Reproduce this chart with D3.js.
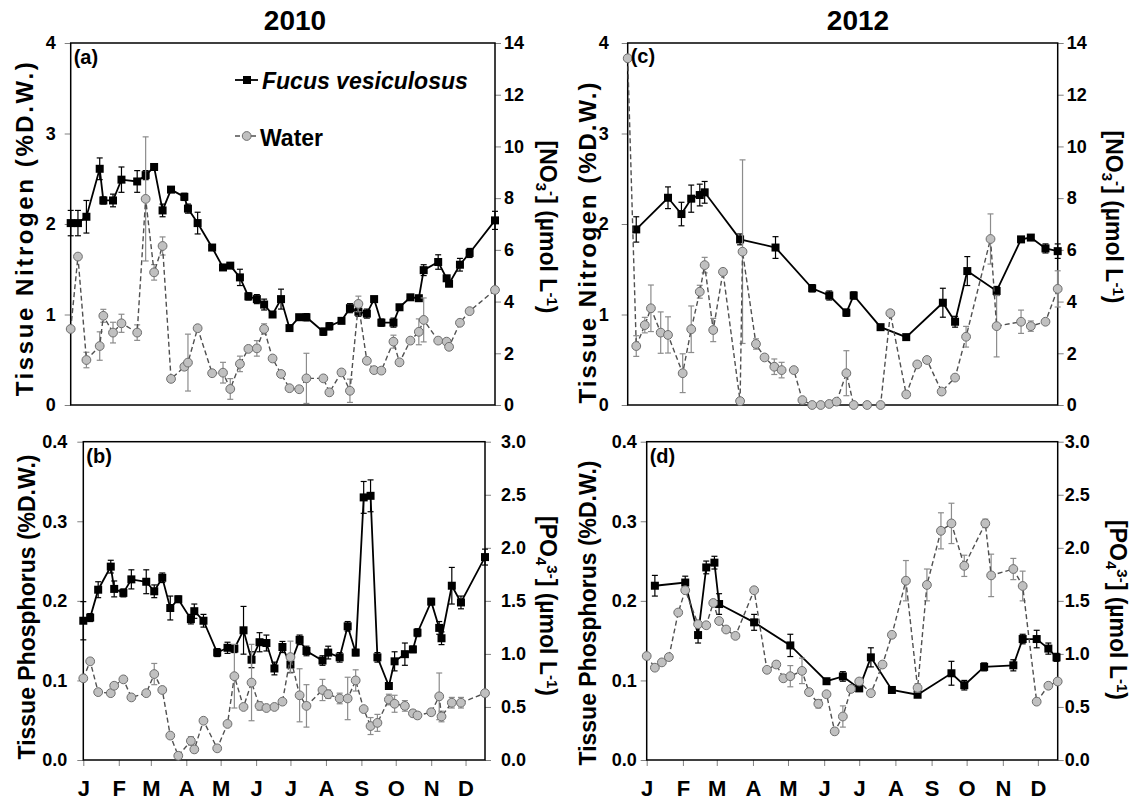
<!DOCTYPE html>
<html>
<head>
<meta charset="utf-8">
<script src="https://cdnjs.cloudflare.com/ajax/libs/d3/7.8.5/d3.min.js"></script>
<style>
  body { margin: 0; background: #fff; }
  text { font-family: "Liberation Sans", Arial, sans-serif; font-weight: bold; fill: #000; }
</style>
</head>
<body>
<div id="chart"></div>
<script>
// month initials for the bottom axes
var monthLabels = ["J", "F", "M", "A", "M", "J", "J", "A", "S", "O", "N", "D"];

// 2010 sampling days (day of year, 0 = 1 Jan), shared by panels a and b
var days2010 = [0, 6, 13, 24, 27, 35, 42, 55, 62, 69, 76, 83, 94, 97, 105, 117, 126, 132, 140, 147,
  154, 160, 167, 174, 181, 189, 195, 209, 214, 224, 231, 238, 245, 251, 257, 267, 272, 281, 288, 292,
  304, 311, 313, 322, 330, 351];

// (a) tissue N (%D.W.) and water NO3 (umol/L), 2010
var fucusN2010 = [2.01, 2.01, 2.08, 2.61, 2.26, 2.26, 2.49, 2.47, 2.54, 2.63, 2.15, 2.38, 2.30, 2.17, 2.01, 1.74, 1.52, 1.54, 1.41, 1.20,
  1.17, 1.11, 1.00, 1.17, 0.85, 0.97, 0.97, 0.81, 0.87, 0.93, 1.07, 1.03, 1.01, 1.17, 0.91, 0.91, 1.08, 1.19, 1.18, 1.49,
  1.58, 1.40, 1.34, 1.55, 1.68, 2.04];
var fucusN2010Err = [0.14, 0.14, 0.18, 0.12, 0.04, 0.07, 0.14, 0.12, 0.05, 0.03, 0.07, 0.03, 0.04, 0.05, 0.12, 0.03, 0.03, 0.03, 0.09, 0.04,
  0.05, 0.06, 0.03, 0.11, 0.03, 0.03, 0.04, 0.04, 0.04, 0.03, 0.05, 0.05, 0.05, 0.03, 0.04, 0.05, 0.03, 0.02, 0.02, 0.06,
  0.08, 0.03, 0.03, 0.07, 0.05, 0.10];
var waterN2010 = [2.94, 5.74, 1.74, 2.28, 3.45, 2.80, 3.16, 2.80, 7.97, 5.13, 6.15, 1.01, 1.48, 1.64, 2.97, 1.23, 1.25, 0.62, 1.59, 2.17,
  2.19, 2.94, 1.80, 1.20, 0.65, 0.61, 1.03, 1.03, 0.49, 1.26, 0.55, 3.91, 1.71, 1.35, 1.33, 2.45, 1.65, 2.49, 2.83, 3.29,
  2.49, 2.45, 2.25, 3.18, 3.63, 4.45];
var waterN2010Err = [0, 0.1, 0.3, 0.55, 0.25, 0.4, 0.35, 0.3, 2.4, 0.3, 0.35, 0.05, 0.1, 1.1, 0.1, 0.1, 0.4, 0.4, 0.3, 0.1,
  0.3, 0.2, 0.05, 0.1, 0.05, 0.05, 0.97, 0.05, 0.05, 0.05, 0.45, 0.3, 0.05, 0.05, 0.05, 0.25, 0.05, 0.05, 0.5, 0.85,
  0.05, 0.05, 0.05, 0.05, 0.05, 0.05];

// (b) tissue P (%D.W.) and water PO4 (umol/L), 2010
var fucusP2010 = [0.175, 0.179, 0.214, 0.243, 0.215, 0.210, 0.227, 0.224, 0.212, 0.229, 0.191, 0.202, 0.177, 0.187, 0.175, 0.135, 0.141, 0.140, 0.163, 0.126,
  0.148, 0.147, 0.115, 0.142, 0.120, 0.151, 0.137, 0.125, 0.135, 0.129, 0.168, 0.135, 0.330, 0.332, 0.129, 0.093, 0.124, 0.133, 0.139, 0.160,
  0.199, 0.166, 0.153, 0.219, 0.198, 0.255];
var fucusP2010Err = [0.024, 0.005, 0.01, 0.008, 0.01, 0.005, 0.012, 0.015, 0.008, 0.006, 0.015, 0.004, 0.006, 0.009, 0.008, 0.005, 0.007, 0.005, 0.03, 0.01,
  0.012, 0.01, 0.008, 0.007, 0.01, 0.006, 0.006, 0.006, 0.008, 0.006, 0.006, 0.004, 0.02, 0.02, 0.006, 0.004, 0.012, 0.014, 0.004, 0.005,
  0.004, 0.008, 0.008, 0.023, 0.008, 0.01];
var waterP2010 = [0.77, 0.93, 0.64, 0.63, 0.70, 0.76, 0.59, 0.63, 0.81, 0.66, 0.23, 0.04, 0.18, 0.10, 0.37, 0.11, 0.34, 0.79, 0.50, 0.73,
  0.51, 0.49, 0.50, 0.55, 0.97, 0.61, 0.51, 0.66, 0.62, 0.58, 0.58, 0.75, 0.48, 0.32, 0.35, 0.57, 0.53, 0.51, 0.44, 0.42,
  0.45, 0.60, 0.41, 0.54, 0.54, 0.63];
var waterP2010Err = [0, 0, 0, 0, 0, 0, 0, 0, 0.1, 0, 0, 0, 0.04, 0.03, 0, 0, 0, 0.3, 0, 0.36,
  0.04, 0, 0, 0, 0.15, 0.25, 0.2, 0.1, 0.04, 0.05, 0.2, 0.1, 0, 0.08, 0.08, 0.05, 0.08, 0.05, 0.03, 0.03,
  0.03, 0.22, 0.05, 0.05, 0.05, 0];

// (c) 2012 nitrogen
var fucusNDays2012 = [7, 33, 44, 52, 59, 63, 92, 121, 151, 165, 179, 185, 207, 228, 258, 268, 278, 302, 322, 330, 342, 352];
var fucusN2012 = [1.94, 2.29, 2.11, 2.28, 2.32, 2.35, 1.83, 1.74, 1.29, 1.21, 1.02, 1.21, 0.86, 0.75, 1.13, 0.92, 1.48, 1.26, 1.83, 1.85, 1.73, 1.70];
var fucusN2012Err = [0.14, 0.12, 0.13, 0.15, 0.12, 0.12, 0.06, 0.12, 0.04, 0.05, 0.04, 0.04, 0.02, 0.02, 0.16, 0.06, 0.16, 0.05, 0.02, 0.02, 0.05, 0.08];
var waterNDays2012 = [0, 7, 14, 19, 27, 33, 45, 52, 59, 63, 70, 78, 92, 94, 105, 112, 120, 126, 136, 143,
  151, 158, 165, 171, 179, 185, 196, 207, 215, 228, 237, 245, 257, 268, 277, 297, 302, 322, 330, 342, 352];
var waterN2012 = [13.41, 2.28, 3.09, 3.74, 2.80, 2.71, 1.23, 2.93, 4.38, 5.41, 2.90, 5.15, 0.15, 5.93, 2.36, 1.84, 1.48, 1.35, 1.35, 0.19,
  0.0, 0.0, 0.04, 0.13, 1.23, 0.0, 0.0, 0.0, 3.55, 0.41, 1.57, 1.74, 0.52, 1.06, 2.64, 6.42, 3.05, 3.22, 3.05, 3.22, 4.49];
var waterN2012Err = [0, 0.4, 0.3, 0.9, 0.8, 0.7, 0.75, 0.9, 0.25, 0.3, 0.45, 0.05, 0.05, 3.55, 0.2, 0.05, 0.3, 0.3, 0.05, 0.05,
  0, 0, 0, 0.05, 0.87, 0, 0, 0, 0.05, 0.05, 0.05, 0.05, 0.05, 0.05, 0.4, 0.97, 1.19, 0.45, 0.2, 0.05, 0.7];

// (d) 2012 phosphorus
var fucusPDays2012 = [7, 33, 44, 51, 58, 62, 92, 123, 154, 168, 182, 192, 210, 232, 261, 272, 289, 314, 322, 334, 344, 351];
var fucusP2012 = [0.219, 0.223, 0.157, 0.242, 0.248, 0.196, 0.173, 0.144, 0.099, 0.105, 0.090, 0.129, 0.088, 0.082, 0.109, 0.094, 0.117, 0.119, 0.152, 0.152, 0.140, 0.129];
var fucusP2012Err = [0.013, 0.008, 0.01, 0.008, 0.008, 0.013, 0.01, 0.014, 0.003, 0.006, 0.003, 0.012, 0.003, 0.003, 0.015, 0.006, 0.005, 0.007, 0.006, 0.011, 0.007, 0.005];
var waterPDays2012 = [0, 7, 13, 19, 27, 33, 44, 51, 57, 62, 68, 76, 92, 103, 111, 117, 123, 133, 139, 147,
  154, 161, 168, 175, 182, 192, 202, 210, 222, 232, 240, 252, 261, 272, 290, 295, 314, 322, 334, 344, 352];
var waterP2012 = [0.98, 0.87, 0.92, 0.97, 1.39, 1.60, 1.28, 1.27, 1.48, 1.31, 1.23, 1.17, 1.60, 0.85, 0.90, 0.77, 0.79, 0.84, 0.64, 0.53,
  0.62, 0.27, 0.41, 0.67, 0.74, 0.63, 0.90, 1.18, 1.69, 0.68, 1.65, 2.16, 2.23, 1.83, 2.23, 1.74, 1.80, 1.64, 0.55, 0.70, 0.74];
var waterP2012Err = [0, 0, 0, 0, 0, 0, 0, 0, 0, 0, 0, 0, 0, 0, 0.03, 0, 0.1, 0.12, 0, 0.04,
  0, 0.03, 0.1, 0, 0, 0, 0, 0, 0.19, 0.04, 0.15, 0.17, 0.19, 0.1, 0.04, 0.2, 0.1, 0.14, 0, 0, 0];

// axis ticks
var nTissueTicks = [0, 1, 2, 3, 4];
var nWaterTicks = [0, 2, 4, 6, 8, 10, 12, 14];
var pTissueTicks = [0, 0.1, 0.2, 0.3, 0.4];
var pWaterTicks = [0, 0.5, 1.0, 1.5, 2.0, 2.5, 3.0];

var tickColor = "#808080";

var svg = d3.select("#chart").append("svg")
    .attr("width", 1140)
    .attr("height", 806);

function dayToDate(year, day){
  return d3.timeDay.offset(new Date(year, 0, 1), day);
}

function rows(year, days, vals, errs){
  return days.map(function(d, i){
    return {date: dayToDate(year, d), v: vals[i], e: errs[i]};
  });
}

function styleAxis(g, size){
  g.select(".domain").remove();
  g.selectAll(".tick line").attr("stroke", tickColor).attr("stroke-width", 1);
  g.selectAll(".tick text")
    .attr("font-size", size)
    .attr("font-family", "Liberation Sans, Arial, sans-serif")
    .attr("font-weight", "bold")
    .attr("fill", "#000");
}

function errorBars(g, data, x, y, color){
  var eb = g.append("g").selectAll("g")
    .data(data.filter(function(d){ return d.e > 0; }))
    .enter().append("g")
    .attr("stroke", color)
    .attr("stroke-width", 1.2);
  eb.append("line")
    .attr("x1", function(d){ return x(d.date); })
    .attr("x2", function(d){ return x(d.date); })
    .attr("y1", function(d){ return y(Math.max(d.v - d.e, y.domain()[0])); })
    .attr("y2", function(d){ return y(d.v + d.e); });
  eb.append("line")
    .attr("x1", function(d){ return x(d.date) - 3; })
    .attr("x2", function(d){ return x(d.date) + 3; })
    .attr("y1", function(d){ return y(d.v + d.e); })
    .attr("y2", function(d){ return y(d.v + d.e); });
  eb.filter(function(d){ return d.v - d.e > y.domain()[0]; })
    .append("line")
    .attr("x1", function(d){ return x(d.date) - 3; })
    .attr("x2", function(d){ return x(d.date) + 3; })
    .attr("y1", function(d){ return y(d.v - d.e); })
    .attr("y2", function(d){ return y(d.v - d.e); });
}

function drawPanel(p){
  var g = svg.append("g");

  var x = d3.scaleTime()
      .domain([new Date(p.year, 0, 1), dayToDate(p.year, p.lastDay)])
      .range([p.left, p.right]);
  var yL = d3.scaleLinear().domain(p.leftDomain).range([p.bottom, p.top]);
  var yR = d3.scaleLinear().domain(p.rightDomain).range([p.bottom, p.top]);

  // left axis
  g.append("g")
    .attr("transform", "translate(" + p.left + ",0)")
    .call(d3.axisLeft(yL).tickValues(p.leftTicks).tickFormat(p.leftFormat).tickSize(6).tickPadding(p.leftPad))
    .call(styleAxis, 18);

  // right axis
  g.append("g")
    .attr("transform", "translate(" + p.right + ",0)")
    .call(d3.axisRight(yR).tickValues(p.rightTicks).tickFormat(p.rightFormat).tickSize(6).tickPadding(p.rightPad))
    .call(styleAxis, 18);

  // months only on the lower panels
  if(p.months){
    g.append("g")
      .attr("transform", "translate(0," + p.bottom + ")")
      .call(d3.axisBottom(x).ticks(d3.timeMonth.every(1))
        .tickFormat(function(d){ return monthLabels[d.getMonth()]; })
        .tickSize(6).tickPadding(14))
      .call(styleAxis, 22);
  }

  // frame
  g.append("rect")
    .attr("x", p.left)
    .attr("y", p.top)
    .attr("width", p.right - p.left)
    .attr("height", p.bottom - p.top)
    .attr("fill", "none")
    .attr("stroke", "#000")
    .attr("stroke-width", 1.5);

  var fucus = rows(p.year, p.fucusDays, p.fucus, p.fucusErr);
  var water = rows(p.year, p.waterDays, p.water, p.waterErr);

  // tissue series: black squares, solid line
  errorBars(g, fucus, x, yL, "#000");
  g.append("path")
    .datum(fucus)
    .attr("fill", "none")
    .attr("stroke", "#000")
    .attr("stroke-width", 1.8)
    .attr("d", d3.line().x(function(d){ return x(d.date); }).y(function(d){ return yL(d.v); }));
  g.append("g").selectAll("rect")
    .data(fucus)
    .enter().append("rect")
    .attr("x", function(d){ return x(d.date) - 4; })
    .attr("y", function(d){ return yL(d.v) - 4; })
    .attr("width", 8)
    .attr("height", 8)
    .attr("fill", "#000");

  // water series: grey circles, dashed line
  errorBars(g, water, x, yR, "#8c8c8c");
  g.append("path")
    .datum(water)
    .attr("fill", "none")
    .attr("stroke", "#505050")
    .attr("stroke-width", 1.4)
    .attr("stroke-dasharray", "5,3")
    .attr("d", d3.line().x(function(d){ return x(d.date); }).y(function(d){ return yR(d.v); }));
  g.append("g").selectAll("circle")
    .data(water)
    .enter().append("circle")
    .attr("cx", function(d){ return x(d.date); })
    .attr("cy", function(d){ return yR(d.v); })
    .attr("r", 4.4)
    .attr("fill", "#c0c0c0")
    .attr("stroke", "#6e6e6e")
    .attr("stroke-width", 1);

  // panel letter
  g.append("text")
    .attr("x", p.left + 3)
    .attr("y", p.top + p.letterDy)
    .attr("font-size", 20)
    .text(p.letter);

  // left title
  g.append("text")
    .attr("transform", "translate(" + p.leftTitleX + "," + p.leftTitleY + ") rotate(-90)")
    .attr("text-anchor", "middle")
    .attr("font-size", p.leftTitleSize)
    .attr("letter-spacing", p.leftTitleSpacing)
    .text(p.leftTitle);

  // right title with sub/superscripts
  var rt = g.append("text")
    .attr("transform", "translate(" + p.rightTitleX + "," + p.rightTitleY + ") rotate(90)")
    .attr("text-anchor", "middle")
    .attr("font-size", 23);
  p.rightTitle.forEach(function(part){
    var t = rt.append("tspan").text(part[0]);
    if(part[1] == "sub") t.attr("font-size", 15).attr("baseline-shift", "-25%");
    if(part[1] == "sup") t.attr("font-size", 15).attr("baseline-shift", "45%");
  });

  return {x: x, yL: yL, yR: yR, g: g};
}

var fmtInt = d3.format("d");
var fmt1 = d3.format(".1f");
var noTitle = [["[NO"], ["3", "sub"], ["-", "sup"], ["] (\u00b5mol L"], ["-1", "sup"], [")"]];
var poTitle = [["[PO"], ["4", "sub"], ["3-", "sup"], ["] (\u00b5mol L"], ["-1", "sup"], [")"]];

var pa = drawPanel({
  year: 2010, lastDay: 351, left: 70.7, right: 495, top: 43, bottom: 405,
  leftDomain: [0, 4], rightDomain: [0, 14], leftTicks: nTissueTicks, rightTicks: nWaterTicks,
  leftFormat: fmtInt, rightFormat: fmtInt, leftPad: 9, rightPad: 3, months: false,
  fucusDays: days2010, fucus: fucusN2010, fucusErr: fucusN2010Err,
  waterDays: days2010, water: waterN2010, waterErr: waterN2010Err,
  letter: "(a)", letterDy: 21,
  leftTitle: "Tissue Nitrogen (%D.W.)", leftTitleSize: 24, leftTitleSpacing: 2.6, leftTitleX: 33, leftTitleY: 228,
  rightTitle: noTitle, rightTitleX: 540, rightTitleY: 227
});

drawPanel({
  year: 2010, lastDay: 351, left: 83.3, right: 485, top: 441.7, bottom: 760,
  leftDomain: [0, 0.4], rightDomain: [0, 3], leftTicks: pTissueTicks, rightTicks: pWaterTicks,
  leftFormat: fmt1, rightFormat: fmt1, leftPad: 10, rightPad: 10, months: true,
  fucusDays: days2010, fucus: fucusP2010, fucusErr: fucusP2010Err,
  waterDays: days2010, water: waterP2010, waterErr: waterP2010Err,
  letter: "(b)", letterDy: 21,
  leftTitle: "Tissue Phosphorus (%D.W.)", leftTitleSize: 23, leftTitleSpacing: 0, leftTitleX: 35, leftTitleY: 607,
  rightTitle: poTitle, rightTitleX: 540, rightTitleY: 606
});

drawPanel({
  year: 2012, lastDay: 352, left: 627.7, right: 1057.7, top: 43, bottom: 405,
  leftDomain: [0, 4], rightDomain: [0, 14], leftTicks: nTissueTicks, rightTicks: nWaterTicks,
  leftFormat: fmtInt, rightFormat: fmtInt, leftPad: 13, rightPad: 3, months: false,
  fucusDays: fucusNDays2012, fucus: fucusN2012, fucusErr: fucusN2012Err,
  waterDays: waterNDays2012, water: waterN2012, waterErr: waterN2012Err,
  letter: "(c)", letterDy: 20,
  leftTitle: "Tissue Nitrogen (%D.W.)", leftTitleSize: 24, leftTitleSpacing: 2, leftTitleX: 596, leftTitleY: 242,
  rightTitle: noTitle, rightTitleX: 1106, rightTitleY: 217
});

drawPanel({
  year: 2012, lastDay: 352, left: 646.7, right: 1057.7, top: 441.7, bottom: 760,
  leftDomain: [0, 0.4], rightDomain: [0, 3], leftTicks: pTissueTicks, rightTicks: pWaterTicks,
  leftFormat: fmt1, rightFormat: fmt1, leftPad: 4, rightPad: 1, months: true,
  fucusDays: fucusPDays2012, fucus: fucusP2012, fucusErr: fucusP2012Err,
  waterDays: waterPDays2012, water: waterP2012, waterErr: waterP2012Err,
  letter: "(d)", letterDy: 21,
  leftTitle: "Tissue Phosphorus (%D.W.)", leftTitleSize: 23, leftTitleSpacing: 0, leftTitleX: 596, leftTitleY: 613,
  rightTitle: poTitle, rightTitleX: 1110, rightTitleY: 610
});

// year titles
svg.append("text").attr("x", 295).attr("y", 30).attr("text-anchor", "middle").attr("font-size", 28).text("2010");
svg.append("text").attr("x", 858).attr("y", 30).attr("text-anchor", "middle").attr("font-size", 28).text("2012");

// legend in panel (a)
var lg = pa.g.append("g");
lg.append("line").attr("x1", 235).attr("x2", 258).attr("y1", 80).attr("y2", 80)
  .attr("stroke", "#000").attr("stroke-width", 1.8);
lg.append("rect").attr("x", 243).attr("y", 76).attr("width", 8).attr("height", 8).attr("fill", "#000");
lg.append("text").attr("x", 262).attr("y", 89).attr("font-size", 23).attr("font-style", "italic")
  .text("Fucus vesiculosus");
lg.append("line").attr("x1", 235).attr("x2", 258).attr("y1", 136).attr("y2", 136)
  .attr("stroke", "#505050").attr("stroke-width", 1.4).attr("stroke-dasharray", "5,3");
lg.append("circle").attr("cx", 246.7).attr("cy", 136).attr("r", 4.4)
  .attr("fill", "#c0c0c0").attr("stroke", "#6e6e6e");
lg.append("text").attr("x", 260).attr("y", 146).attr("font-size", 23).text("Water");
</script>
</body>
</html>
